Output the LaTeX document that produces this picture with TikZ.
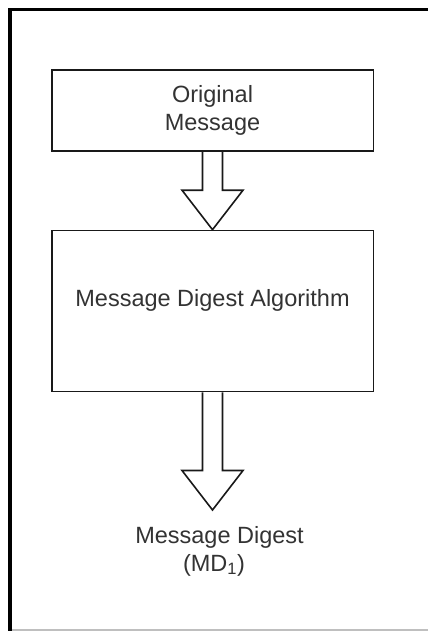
\documentclass[tikz,border=0pt]{standalone}
\usepackage{fontspec}
\setmainfont{Liberation Sans}
\usetikzlibrary{calc,backgrounds}

% hollow block arrow from the bottom of one node to a point below it
% #1 start anchor, #2 tip, #3 height of the head
\newcommand\hollowarrow[3]{%
  \draw[blockarrow] let \p1=(#1), \p2=(#2) in
    (\x1-10pt,\y1) -- (\x1-10pt,\y2+#3) -- (\x1-30.5pt,\y2+#3) -- (\x2,\y2)
    -- (\x1+30.5pt,\y2+#3) -- (\x1+10pt,\y2+#3) -- (\x1+10pt,\y1);}

\begin{document}
\begin{tikzpicture}[x=1pt,y=-1pt,
  txt/.style={text=black!80, font=\fontsize{23.5}{27.5}\selectfont, align=center},
  box/.style={txt, draw=black!90, line width=1.6pt, fill=white,
    minimum width=321.6pt, inner sep=0pt},
  lbl/.style={txt, inner sep=0pt},
  blockarrow/.style={draw=black!90, line width=1.6pt, fill=white, line join=miter},
  frame/.style={line width=3.5pt, black},
]
\useasboundingbox (0,0) rectangle (428,631);

% process boxes
\node[box, minimum height=81pt] (msg) at (212.5,110.5) {Original\\Message};
\node[box, minimum height=161pt] (algo) at (212.5,311) {};
\node[lbl, anchor=base] (algotext) at (212.5,306) {Message Digest Algorithm};

% end point of the output arrow and its label
\coordinate (digest) at (212.5,510);
\node[lbl, anchor=north] (digesttext) at (214,526.5)
  {\hspace*{11pt}Message Digest\\(MD\textsubscript{1})};

\begin{scope}[on background layer]
  \fill[white] (0,0) rectangle (428,631);
  \draw[gray!50, line width=2pt] (10,630) -- (428,630);
  \draw[frame] (10,631) -- (10,9.7) -- (428,9.7);
  \hollowarrow{msg.south}{algo.north}{39.5pt}
  \hollowarrow{algo.south}{digest}{39.5pt}
\end{scope}
\end{tikzpicture}
\end{document}
